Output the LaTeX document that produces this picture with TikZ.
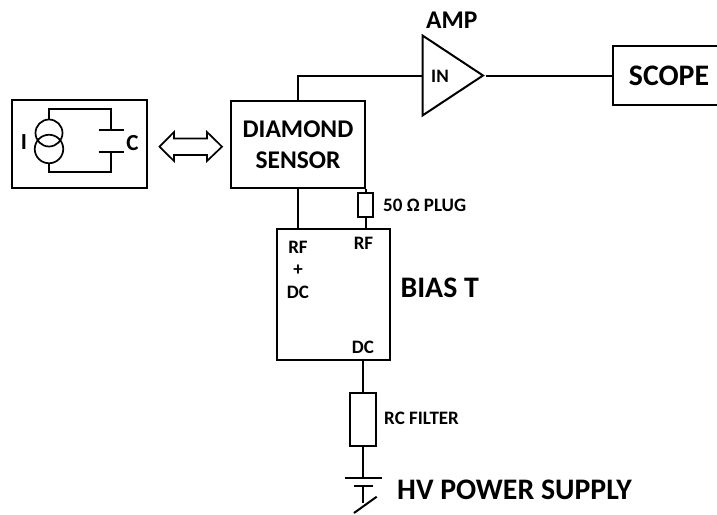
\documentclass[tikz,border=0pt]{standalone}
\usepackage{fontspec}
\setmainfont{Carlito}
\usepackage{tikz}
\usetikzlibrary{positioning, shapes.geometric}

\tikzset{
    wire/.style={line width=2pt},
    blockbox/.style={draw, line width=2pt, inner sep=0pt},
    source/.style={draw, circle, line width=1.7pt, inner sep=0pt, minimum size=27pt},
    hugelabel/.style={font=\bfseries\fontsize{29.8}{32}\selectfont, inner sep=0pt},
    biglabel/.style={font=\bfseries\fontsize{25.5}{31}\selectfont, inner sep=0pt, align=center},
    partlabel/.style={font=\bfseries\fontsize{23}{26}\selectfont, inner sep=0pt},
    smalllabel/.style={font=\bfseries\fontsize{19}{22}\selectfont, inner sep=0pt}
}

\begin{document}
\begin{tikzpicture}[x=1pt, y=-1pt]
    \useasboundingbox (0,0) rectangle (717,514);
    \clip (0,0) rectangle (717,514);

    % Blocks
    \node[blockbox, minimum width=135pt, minimum height=88pt] (circuit) at (79.5,144) {};
    \node[blockbox, minimum width=134.5pt, minimum height=87.5pt, biglabel] (sensor) at (298,144.5) {DIAMOND\\SENSOR};
    \node[blockbox, minimum width=113.5pt, minimum height=131.5pt] (biast) at (333.5,294.5) {};
    \node[blockbox, minimum width=112.5pt, minimum height=59.5pt, hugelabel] (scope) at (669,75.5) {SCOPE};
    \node[blockbox, minimum width=15.5pt, minimum height=24pt] (plug) at (365.5,205.3) {};
    \node[blockbox, minimum width=26pt, minimum height=53.5pt] (filter) at (363,419.5) {};
    \node[draw, isosceles triangle, isosceles triangle stretches, line width=2pt, inner sep=0pt,
          minimum width=80pt, minimum height=60.5pt, anchor=lower side] (amp) at (421.5,75.5) {};

    % Double arrow
    \draw[line width=1.7pt] (159.5,146.7) -- (174,132) -- (174,138.5) -- (207,138.5) -- (207,132)
        -- (222,146.7) -- (207,161) -- (207,155) -- (174,155) -- (174,161) -- cycle;

    % Labels
    \node[biglabel] (ampname) at (451.7,20) {AMP};
    \node[hugelabel] (biasname) at (439.7,288) {BIAS T};
    \node[hugelabel, anchor=west] (hvname) at (397,490) {HV POWER SUPPLY};
    \node[partlabel] (iname) at (24,142.5) {I};
    \node[partlabel] (cname) at (132.5,143.5) {C};
    \node[smalllabel] (inname) at (440,76) {IN};
    \node[smalllabel, anchor=west] (plugname) at (383,205) {50 Ω PLUG};
    \node[smalllabel, anchor=west] (filtername) at (384,418) {RC FILTER};
    \foreach \p/\name/\lab in {298/247/RF, 298/270/+, 298/292/DC, 363.5/243/RF, 363/347/DC}
        \node[smalllabel] at (\p,\name) {\lab};

    % Current source and capacitor
    \node[source] (srctop) at (49,133) {};
    \node[source, minimum size=28.5pt] (srcbot) at (49,149) {};
    \coordinate (platetop) at (111,129.5);
    \coordinate (platebot) at (111,152);
    \draw[wire] (srctop.north) -- (49,109) -| (platetop);
    \draw[wire] (srcbot.south) -- (49,172) -| (platebot);
    \draw[wire] (98.7,129.5) -- (124,129.5);
    \draw[wire] (98.7,152) -- (124,152);

    % Wires between blocks
    \draw[wire] (sensor.north) |- (amp.lower side);
    \draw[wire] (amp.apex) -- (scope.west);
    \draw[wire] (sensor.south) -- (sensor.south |- biast.north);
    \draw[wire] (plug.north) -- (plug.north |- sensor.south);
    \draw[wire] (plug.south) -- (plug.south |- biast.north);
    \draw[wire] (filter.north) -- (filter.north |- biast.south);

    % Supply
    \coordinate (hvtop) at (363,477.7);
    \coordinate (hvlow) at (363,485.7);
    \draw[wire] (filter.south) -- (hvtop);
    \draw[wire] (345,477.7) -- (382,477.7);
    \draw[wire] (354,485.7) -- (372.7,485.7);
    \draw[wire] (hvlow) -- (363,503);
    \draw[wire] (376.7,496.7) -- (354,513);
\end{tikzpicture}
\end{document}
